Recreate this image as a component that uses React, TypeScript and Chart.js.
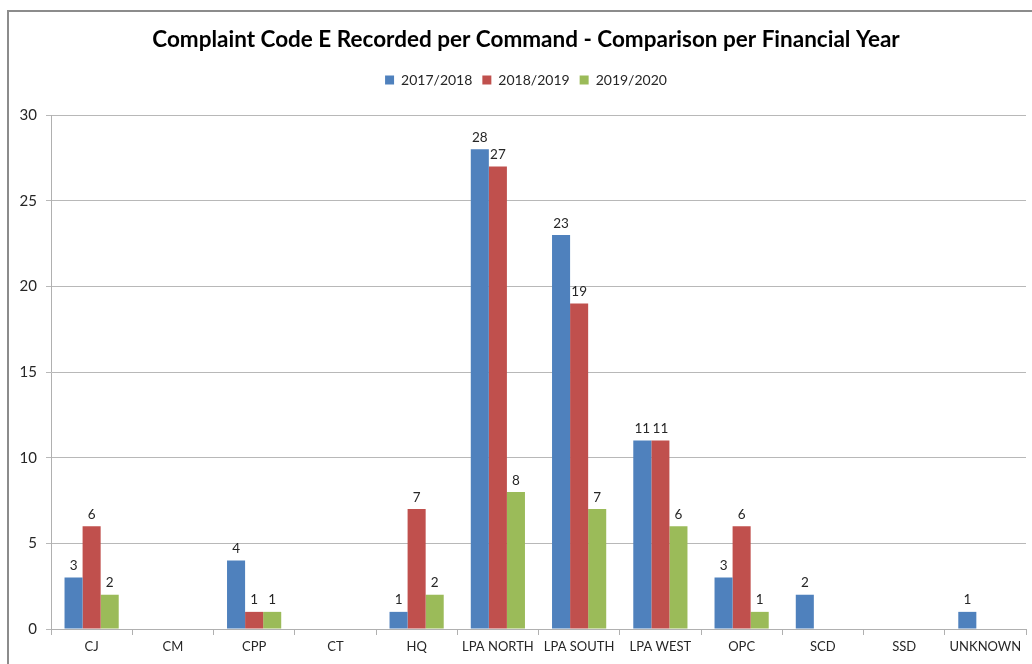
import React, { useEffect, useRef } from "react";
import { Chart, registerables } from "chart.js";

Chart.register(...registerables);

const categories = ["CJ", "CM", "CPP", "CT", "HQ", "LPA NORTH", "LPA SOUTH", "LPA WEST", "OPC", "SCD", "SSD", "UNKNOWN"];
const seriesNames = ["2017/2018", "2018/2019", "2019/2020"];
const fy2017 = [3, 0, 4, 0, 1, 28, 23, 11, 3, 2, 0, 1];
const fy2018 = [6, 0, 1, 0, 7, 27, 19, 11, 6, 0, 0, 0];
const fy2019 = [2, 0, 1, 0, 2, 8, 7, 6, 1, 0, 0, 0];
const colors = ["#4F81BD", "#C0504D", "#9BBB59"];
const yTicks = [0, 5, 10, 15, 20, 25, 30];

const FONT = "Lato, 'Noto Sans', sans-serif";

const framePlugin = {
  id: "frame",
  beforeDraw(chart: any) {
    const ctx = chart.ctx;
    ctx.save();
    ctx.fillStyle = "#ffffff";
    ctx.fillRect(0, 0, chart.width, chart.height);
    ctx.strokeStyle = "#8c8c8c";
    ctx.lineWidth = 2;
    ctx.strokeRect(8, 11, chart.width + 20, chart.height + 20);
    ctx.restore();
  },
};

const dataLabelPlugin = {
  id: "dataLabels",
  afterDatasetsDraw(chart: any) {
    const ctx = chart.ctx;
    ctx.save();
    ctx.font = "13.5px " + FONT;
    ctx.fillStyle = "#262626";
    ctx.textAlign = "center";
    ctx.textBaseline = "bottom";
    chart.data.datasets.forEach((ds: any, i: number) => {
      const meta = chart.getDatasetMeta(i);
      meta.data.forEach((bar: any, j: number) => {
        const v = ds.data[j];
        if (!v) return;
        ctx.fillText(String(v), bar.x, bar.y - 5);
      });
    });
    ctx.restore();
  },
};

const legendSpacer = {
  id: "legendSpacer",
  beforeInit(chart: any) {
    const legend = chart.legend;
    if (!legend) return;
    const origFit = legend.fit;
    legend.fit = function () {
      origFit.call(legend);
      this.height += 18;
    };
  },
  afterLayout(chart: any) {
    const shift = 13;
    [chart.titleBlock, chart.legend].forEach((b: any) => {
      if (!b) return;
      b.left += shift;
      b.right += shift;
    });
  },
};

export default function App() {
  const ref = useRef<HTMLCanvasElement | null>(null);
  useEffect(() => {
    if (!ref.current) return;
    const chart = new Chart(ref.current, {
      type: "bar",
      data: {
        labels: categories,
        datasets: [fy2017, fy2018, fy2019].map((d, i) => ({
          label: seriesNames[i],
          data: d,
          backgroundColor: colors[i],
          borderWidth: 0,
          barPercentage: 1,
          categoryPercentage: 0.667,
        })),
      },
      options: {
        responsive: false,
        animation: false,
        layout: { padding: { left: 0, right: 6, top: 0, bottom: 0 } },
        plugins: {
          title: {
            display: true,
            text: "Complaint Code E Recorded per Command - Comparison per Financial Year",
            color: "#000000",
            font: { family: FONT, size: 22.5, weight: "bold" },
            padding: { top: 26, bottom: 10 },
          },
          legend: {
            display: true,
            position: "top",
            labels: {
              boxWidth: 9,
              boxHeight: 9,
              color: "#262626",
              font: { family: FONT, size: 14 },
              padding: 10,
            },
          },
          tooltip: { enabled: false },
        },
        scales: {
          x: {
            offset: true,
            grid: {
              display: true,
              offset: true,
              drawOnChartArea: false,
              drawTicks: true,
              tickLength: 6,
              color: "#b0b0b0",
            },
            border: { display: true, color: "#b0b0b0" },
            ticks: {
              color: "#262626",
              font: { family: FONT, size: 13 },
              maxRotation: 0,
              autoSkip: false,
              padding: 4,
            },
            afterFit(scale: any) {
              scale.height = 35;
            },
          },
          y: {
            min: 0,
            max: 30,
            afterBuildTicks(scale: any) {
              scale.ticks = yTicks.map((v) => ({ value: v }));
            },
            grid: {
              display: true,
              color: "#b8b8b8",
              tickLength: 5,
            },
            border: { display: true, color: "#b0b0b0" },
            ticks: {
              color: "#262626",
              font: { family: FONT, size: 15 },
              padding: 9,
            },
            afterFit(scale: any) {
              scale.width = 51;
            },
          },
        },
      },
      plugins: [framePlugin, dataLabelPlugin, legendSpacer],
    });
    return () => chart.destroy();
  }, []);
  return (
    <div style={{ position: "absolute", left: 0, top: 0, width: 1032, height: 664 }}>
      <canvas ref={ref} width={1032} height={664} style={{ display: "block", width: 1032, height: 664 }} />
    </div>
  );
}
